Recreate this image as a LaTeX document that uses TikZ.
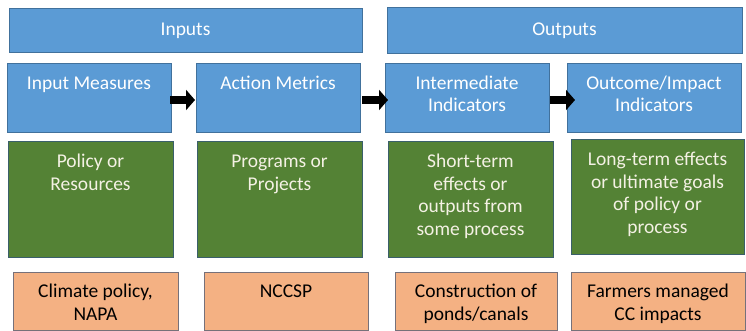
\documentclass[tikz,border=0pt]{standalone}
\usepackage{fontspec}
\setmainfont{Carlito}
\usetikzlibrary{arrows.meta}
\definecolor{boxblue}{HTML}{5B9BD5}
\definecolor{lineblue}{HTML}{41719C}
\definecolor{boxgreen}{HTML}{548235}
\definecolor{linegreen}{HTML}{3A5F6A}
\definecolor{boxorange}{HTML}{F4B183}
\definecolor{lineorange}{HTML}{76717A}
\definecolor{textgreen}{HTML}{F4F1E4}
\def\cell#1#2#3{\parbox[c][#2pt][t]{#1pt}{\centering\rule{0pt}{25.5pt}#3}}

\begin{document}
\begin{tikzpicture}[x=1pt, y=-1pt,
		every node/.style={inner sep=0pt, outer sep=0pt, line width=1pt, anchor=north west,
			font=\fontsize{19.5}{22.5}\selectfont},
		head/.style={draw=lineblue, fill=boxblue, text=white, minimum height=#1},
		measure/.style={draw=lineblue, fill=boxblue, text=white},
		meaning/.style={draw=linegreen, fill=boxgreen, text=textgreen},
		example/.style={draw=lineorange, fill=boxorange, text=black},
		flow/.style={line width=8pt, -{Triangle[length=9pt,width=20pt]}}]
			%%%%% START %%%%%
			\useasboundingbox (0, 0) rectangle (746, 331);
			
			\node[head=44pt, minimum width=353pt] (inputs) at (9, 9) {Inputs};
			\node[head=46pt, minimum width=355pt] (outputs) at (387, 8) {Outputs};
			
			\node[measure] (im) at (7, 64) {\cell{164}{69}{Input Measures}};
			\node[measure] (am) at (196, 64) {\cell{164}{69}{Action Metrics}};
			\node[measure] (ii) at (385, 64) {\cell{164}{69}{Intermediate\\Indicators}};
			\node[measure] (oi) at (567, 64) {\cell{174}{69}{Outcome/Impact\\Indicators}};
			
			\node[meaning] (pol) at (8, 142) {\cell{165}{115}{Policy or\\Resources}};
			\node[meaning] (prog) at (197, 142) {\cell{165}{115}{Programs or\\Projects}};
			\node[meaning] (short) at (388, 142) {\cell{165}{115}{Short-term\\effects or\\outputs from\\some process}};
			\node[meaning] (long) at (571, 140) {\cell{173}{114}{Long-term effects\\or ultimate goals\\of policy or\\process}};
			
			\node[example] (napa) at (13, 272) {\cell{165}{58}{Climate policy,\\NAPA}};
			\node[example] (nccsp) at (204, 272) {\cell{164}{58}{NCCSP}};
			\node[example] (ponds) at (395, 272) {\cell{162}{58}{Construction of\\ponds/canals}};
			\node[example] (farm) at (571, 272) {\cell{174}{58}{Farmers managed\\CC impacts}};
			
			\draw[flow, shorten <=-1pt, shorten >=1pt] ([yshift=-1.5pt]im.east) -- ([yshift=-1.5pt]am.west);
			\draw[flow, shorten <=2pt, shorten >=-3pt] ([yshift=-1.5pt]am.east) -- ([yshift=-1.5pt]ii.west);
			\draw[flow, shorten <=1pt, shorten >=-8pt] ([yshift=-1.5pt]ii.east) -- ([yshift=-1.5pt]oi.west);
			%%%%% END %%%%%
\end{tikzpicture}
\end{document}
